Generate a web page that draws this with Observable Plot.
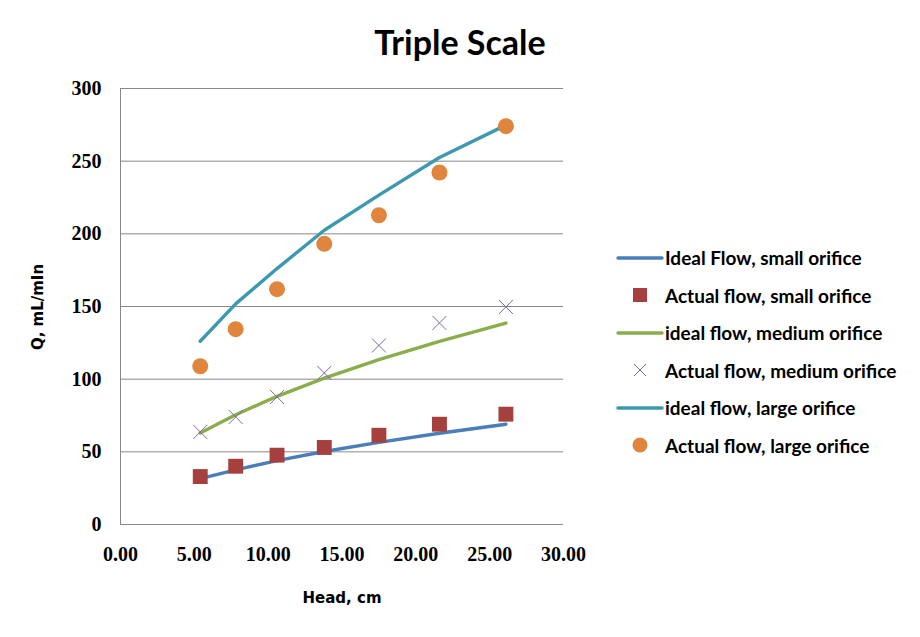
<!DOCTYPE html>
<html>
<head>
<meta charset="utf-8">
<script src="https://cdn.jsdelivr.net/npm/d3@7"></script>
<script src="https://cdn.jsdelivr.net/npm/@observablehq/plot@0.6"></script>
<style>
  html, body { margin: 0; padding: 0; background: #fff; }
  #wrap { position: relative; width: 920px; height: 637px; overflow: hidden; }
  #wrap svg.plot { position: absolute; left: 0; top: 0; }
  .title { position: absolute; left: 0; width: 920px; top: 25px; line-height: 34px; text-align: center; font-family: Lato, sans-serif; font-weight: 700; font-size: 34px; color: #000; }
  .xtitle { position: absolute; left: 242px; width: 200px; top: 589px; text-align: center; font-family: "DejaVu Sans", sans-serif; font-weight: 700; font-size: 15px; }
  .ytitle { position: absolute; left: 38px; top: 307px; transform: translate(-50%, -50%) rotate(-90deg); white-space: nowrap; font-family: "DejaVu Sans", sans-serif; font-weight: 700; font-size: 15px; }
  .legend { position: absolute; left: 614px; top: 239px; font-family: Lato, sans-serif; font-weight: 700; font-size: 19px; }
  .legend .row { display: flex; align-items: center; height: 37.5px; }
  .legend svg { width: 50px; height: 20px; margin-right: 1px; }
</style>
</head>
<body>
<div id="wrap"></div>
<script>
const head = [5.4, 7.8, 10.6, 13.8, 17.5, 21.6, 26.1];
const idealSmall = [31.5, 37.6, 44.0, 50.2, 56.5, 62.8, 69.0];
const actualSmall = [33.0, 40.1, 47.7, 53.0, 61.4, 69.0, 75.9];
const idealMedium = [63.0, 75.5, 88.2, 100.7, 113.4, 126.0, 138.6];
const actualMedium = [63.7, 74.0, 87.8, 104.3, 123.2, 138.7, 149.7];
const idealLarge = [126.1, 151.8, 176.1, 202.5, 226.6, 252.5, 274.8];
const actualLarge = [108.9, 134.4, 161.9, 193.1, 212.8, 242.2, 274.1];
const xTicks = [0, 5, 10, 15, 20, 25, 30];
const yTicks = [0, 50, 100, 150, 200, 250, 300];

const seriesNames = [
  "Ideal Flow, small orifice",
  "Actual flow, small orifice",
  "ideal flow, medium orifice",
  "Actual flow, medium orifice",
  "ideal flow, large orifice",
  "Actual flow, large orifice"
];

const C = {
  blue: "#4a7ebb", red: "#a5403e", green: "#8aae4b",
  purple: "#7f66a8", teal: "#3d99b0", orange: "#df853d", grid: "#888888"
};

const pts = arr => head.map((h, i) => ({x: h, y: arr[i]}));

const plot = Plot.plot({
  width: 920,
  height: 637,
  marginLeft: 120,
  marginRight: 357,
  marginTop: 88,
  marginBottom: 113,
  x: {domain: [0, 30]},
  y: {domain: [0, 300]},
  style: {background: "transparent", overflow: "visible"},
  marks: [
    Plot.ruleY(yTicks, {stroke: C.grid, strokeWidth: 1}),
    Plot.ruleX([0], {stroke: C.grid, strokeWidth: 1}),
    Plot.axisX({ticks: xTicks, tickFormat: d => d.toFixed(2), tickSize: 0, tickPadding: 22,
      fontSize: 20, fontWeight: "bold", fontFamily: "Liberation Serif", label: null, fill: "#000"}),
    Plot.axisY({ticks: yTicks, tickFormat: d => String(d), tickSize: 0, tickPadding: 19,
      fontSize: 20, fontWeight: "bold", fontFamily: "Liberation Serif", label: null, fill: "#000"}),
    Plot.line(pts(idealSmall), {x: "x", y: "y", stroke: C.blue, strokeWidth: 3.4, strokeLinecap: "round"}),
    Plot.dot(pts(actualSmall), {x: "x", y: "y", symbol: "square", r: 8.4, fill: C.red}),
    Plot.line(pts(idealMedium), {x: "x", y: "y", stroke: C.green, strokeWidth: 3.4, strokeLinecap: "round"}),
    Plot.dot(pts(actualMedium), {x: "x", y: "y", symbol: "times", r: 6.4, stroke: C.purple, strokeWidth: 1}),
    Plot.line(pts(idealLarge), {x: "x", y: "y", stroke: C.teal, strokeWidth: 3.4, strokeLinecap: "round"}),
    Plot.dot(pts(actualLarge), {x: "x", y: "y", symbol: "circle", r: 8, fill: C.orange})
  ]
});
plot.classList.add("plot");

const wrap = document.getElementById("wrap");
wrap.appendChild(plot);

const title = document.createElement("div");
title.className = "title";
title.textContent = "Triple Scale";
wrap.appendChild(title);

const xt = document.createElement("div");
xt.className = "xtitle";
xt.textContent = "Head, cm";
wrap.appendChild(xt);

const yt = document.createElement("div");
yt.className = "ytitle";
yt.textContent = "Q, mL/mIn";
wrap.appendChild(yt);

const swatches = [
  `<line x1="4" y1="10" x2="48" y2="10" stroke="${C.blue}" stroke-width="3.4" stroke-linecap="round"/>`,
  `<rect x="19" y="3" width="14" height="14" fill="${C.red}"/>`,
  `<line x1="4" y1="10" x2="48" y2="10" stroke="${C.green}" stroke-width="3.4" stroke-linecap="round"/>`,
  `<path d="M20 4 L32 16 M32 4 L20 16" stroke="${C.purple}" stroke-width="1" fill="none"/>`,
  `<line x1="4" y1="10" x2="48" y2="10" stroke="${C.teal}" stroke-width="3.4" stroke-linecap="round"/>`,
  `<circle cx="26" cy="10" r="7.5" fill="${C.orange}"/>`
];
const legend = document.createElement("div");
legend.className = "legend";
seriesNames.forEach((name, i) => {
  const row = document.createElement("div");
  row.className = "row";
  row.innerHTML = `<svg viewBox="0 0 50 20">${swatches[i]}</svg><span>${name}</span>`;
  legend.appendChild(row);
});
wrap.appendChild(legend);
</script>
</body>
</html>
